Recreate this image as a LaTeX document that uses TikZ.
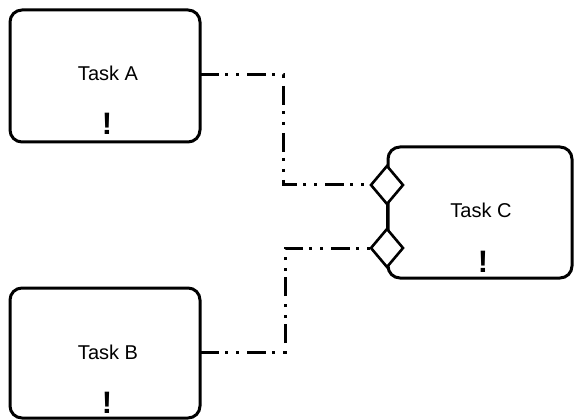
\documentclass[tikz,border=0pt]{standalone}
\usepackage{fontspec}
\setmainfont{Liberation Sans}
\usetikzlibrary{shapes.geometric}
\begin{document}
\begin{tikzpicture}[x=1pt,y=-1pt,
  taskbox/.style={draw=black,line width=3pt,rounded corners=12pt,fill=white},
  gate/.style={diamond,draw=black,fill=white,line width=2.6pt,inner sep=0pt,outer sep=0pt,
     minimum width=32pt,minimum height=38pt,aspect=0.84},
  label/.style={anchor=base,inner sep=0pt,font=\fontsize{20}{20}\selectfont,text=black},
  bang/.style={anchor=base,inner sep=0pt,font=\fontsize{31}{31}\selectfont\bfseries,text=black},
  link/.style={line width=3pt,dash pattern=on 19pt off 6pt on 3pt off 8pt on 3pt off 8pt}]
\useasboundingbox (0,0) rectangle (574,420);
% boxes
\draw[taskbox] (10,10) rectangle (200,142);
\draw[taskbox] (10,288) rectangle (200,418);
\draw[taskbox] (388,147) rectangle (572,278);
\coordinate (Ae) at (200,75);
\coordinate (Be) at (200,352);
% gates
\draw[line width=2.6pt] (387,185) -- (387,248);
\node[gate] (d1) at (387,185) {};
\node[gate] (d2) at (387,248) {};
% texts
\node[label] (ta) at (108,81) {Task A};
\node[label] (tb) at (108,359) {Task B};
\node[label] (tc) at (481,218) {Task C};
\node[bang] (ba) at (107,135) {!};
\node[bang] (bb) at (107,413) {!};
\node[bang] (bc) at (483,272) {!};
% connectors
\draw[link] (Ae) -- (283,75) -- (283,185) -- (d1.west);
\draw[link] (Be) -- (285,352) -- (285,248) -- (d2.west);
\end{tikzpicture}
\end{document}
